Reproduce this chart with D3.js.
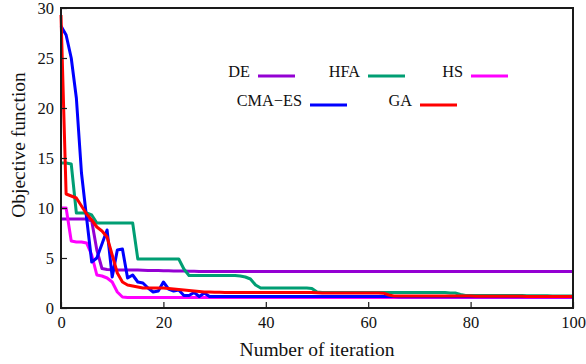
<!DOCTYPE html>
<html lang="en">
<head>
<meta charset="UTF-8">
<title>Convergence</title>
<script src="https://cdn.jsdelivr.net/npm/d3@7/dist/d3.min.js"></script>
<style>
  body { margin: 0; background: #fff; }
  text { font-family: "Liberation Serif", "DejaVu Serif", serif; fill: #111; }
</style>
</head>
<body>
<svg width="586" height="364"></svg>
<script>
// iteration axis ticks
var xTicks = [0, 20, 40, 60, 80, 100];
var yTicks = [0, 5, 10, 15, 20, 25, 30];

// best objective value per iteration (0..30, then held / slowly decreasing)
var deHead   = [8.9, 8.9, 8.9, 8.9, 8.9, 8.9, 8.7, 5.8, 3.95, 3.85, 3.82, 3.8, 3.8, 3.8, 3.8, 3.8, 3.78, 3.76, 3.75, 3.74, 3.73, 3.72, 3.71, 3.7, 3.69, 3.68, 3.67, 3.66, 3.65, 3.65, 3.65];
var hfaHead  = [14.5, 14.5, 14.4, 9.5, 9.5, 9.5, 9.3, 8.5, 8.5, 8.5, 8.5, 8.5, 8.5, 8.5, 8.5, 4.9, 4.9, 4.9, 4.9, 4.9, 4.9, 4.9, 4.9, 4.9, 3.9, 3.25, 3.25, 3.25, 3.25, 3.25, 3.25];
var hsHead   = [10, 10, 6.7, 6.6, 6.6, 6.5, 5.3, 3.3, 3.2, 3.0, 2.6, 1.6, 1.1, 1.05, 1.05, 1.05, 1.05, 1.05, 1.05, 1.05, 1.05, 1.05, 1.05, 1.05, 1.05, 1.05, 1.05, 1.05, 1.05, 1.05, 1.05];
var cmaHead  = [28.2, 27.3, 25, 21, 13.5, 9, 4.6, 5.0, 6.4, 7.8, 3.1, 5.8, 5.9, 3.0, 3.3, 2.6, 2.5, 2.0, 1.6, 1.7, 2.6, 1.9, 1.7, 1.8, 1.25, 1.25, 1.55, 1.15, 1.5, 1.15, 1.15];
var gaHead   = [29.3, 11.4, 11.2, 11.0, 10.2, 9.4, 8.8, 8.1, 7.7, 7.1, 5.3, 3.5, 2.6, 2.3, 2.2, 2.1, 2.0, 2.0, 2.0, 2.0, 2.0, 1.95, 1.9, 1.85, 1.8, 1.75, 1.7, 1.65, 1.6, 1.6, 1.58];

// values at iterations 31..100
var deTail   = [3.65];
var hfaTail  = [3.25, 3.25, 3.25, 3.25, 3.2, 3.1, 2.9, 2.3, 2.0, 2.0, 2.0, 2.0, 2.0, 2.0, 2.0, 2.0, 2.0, 2.0, 1.95, 1.6, 1.55, 1.55, 1.55, 1.55, 1.55, 1.55, 1.55, 1.55, 1.55, 1.55, 1.55, 1.55, 1.55, 1.55, 1.55, 1.55, 1.55, 1.55, 1.55, 1.55, 1.55, 1.55, 1.55, 1.55, 1.55, 1.5, 1.5, 1.35, 1.25, 1.25, 1.25, 1.25, 1.25, 1.25, 1.25, 1.25, 1.25, 1.25, 1.25, 1.25, 1.22, 1.22, 1.22, 1.22, 1.22, 1.2, 1.2, 1.2, 1.2, 1.2];
var hsTail   = [1.05];
var cmaTail  = [1.15, 1.15, 1.15, 1.15, 1.15, 1.15, 1.15, 1.15, 1.15, 1.15, 1.15, 1.15, 1.15, 1.15, 1.15, 1.15, 1.15, 1.15, 1.15, 1.15, 1.15, 1.15, 1.15, 1.15, 1.15, 1.15, 1.15, 1.15, 1.15, 1.15, 1.15, 1.15, 1.15, 1.15, 1.15, 1.12, 1.12, 1.12, 1.12, 1.12, 1.12, 1.12, 1.12, 1.12, 1.12, 1.12, 1.12, 1.12, 1.12, 1.12, 1.12, 1.12, 1.12, 1.12, 1.12, 1.12, 1.12, 1.12, 1.12, 1.12, 1.12, 1.12, 1.12, 1.12, 1.12, 1.12, 1.12, 1.12, 1.12, 1.12];
var gaTail   = [1.57, 1.56, 1.55, 1.55, 1.55, 1.55, 1.55, 1.55, 1.55, 1.55, 1.55, 1.55, 1.55, 1.55, 1.55, 1.55, 1.55, 1.55, 1.55, 1.52, 1.5, 1.5, 1.5, 1.5, 1.5, 1.5, 1.5, 1.5, 1.5, 1.5, 1.5, 1.5, 1.48, 1.3, 1.2, 1.2, 1.2, 1.2, 1.2, 1.2, 1.2, 1.2, 1.2, 1.2, 1.2, 1.2, 1.2, 1.2, 1.2, 1.2, 1.18, 1.18, 1.18, 1.18, 1.18, 1.18, 1.18, 1.18, 1.18, 1.18, 1.16, 1.16, 1.16, 1.16, 1.16, 1.16, 1.16, 1.16, 1.16, 1.16];

var names  = ['DE', 'HFA', 'HS', 'CMA-ES', 'GA'];
var colors = ['#9400d3', '#009e73', '#ff00ff', '#0000ff', '#ff0000'];

// join head + tail; a one-value tail is held to iteration 100
function build(head, tail) {
  var out = head.slice();
  while (out.length < 101) {
    var k = out.length - head.length;
    out.push(tail.length === 1 ? tail[0] : tail[k]);
  }
  return out;
}
var series = [
  build(deHead, deTail),
  build(hfaHead, hfaTail),
  build(hsHead, hsTail),
  build(cmaHead, cmaTail),
  build(gaHead, gaTail)
];

var svg = d3.select('svg');
var plotL = 61, plotR = 573, plotT = 8, plotB = 308;

var x = d3.scaleLinear().domain([0, 100]).range([plotL, plotR]);
var y = d3.scaleLinear().domain([0, 30]).range([plotB, plotT]);

// lines
var line = d3.line()
  .x(function(d, i) { return x(i); })
  .y(function(d) { return y(d); });

svg.append('g').selectAll('path').data(series).enter().append('path')
  .attr('d', line)
  .attr('fill', 'none')
  .attr('stroke', function(d, i) { return colors[i]; })
  .attr('stroke-width', 3)
  .attr('stroke-linejoin', 'round');

// frame
svg.append('rect')
  .attr('x', plotL).attr('y', plotT)
  .attr('width', plotR - plotL).attr('height', plotB - plotT)
  .attr('fill', 'none').attr('stroke', '#1a1a1a').attr('stroke-width', 2);

// axes with inward ticks
var xAxis = svg.append('g').attr('transform', 'translate(0,' + plotB + ')')
  .call(d3.axisBottom(x).tickValues(xTicks).tickSizeInner(-6).tickSizeOuter(0));
var yAxis = svg.append('g').attr('transform', 'translate(' + plotL + ',0)')
  .call(d3.axisLeft(y).tickValues(yTicks).tickSizeInner(-6).tickSizeOuter(0));
[xAxis, yAxis].forEach(function(a) {
  a.select('.domain').remove();
  a.selectAll('line').attr('stroke', '#1a1a1a').attr('stroke-width', 1.2);
  a.selectAll('text').style('font-family', '"Liberation Serif", serif').style('font-size', '16.5px').attr('fill', '#111');
});
xAxis.selectAll('text').attr('dy', '0.71em').attr('y', 8);
yAxis.selectAll('text').attr('x', -7);

// axis titles
svg.append('text')
  .attr('x', (plotL + plotR) / 2).attr('y', 356)
  .attr('text-anchor', 'middle').style('font-size', '19.5px')
  .text('Number of iteration');
svg.append('text')
  .attr('transform', 'translate(25,145) rotate(-90)')
  .attr('text-anchor', 'middle').style('font-size', '19.5px')
  .text('Objective function');

// legend: label right-aligned before a short sample line
var legendPos = [[250, 76], [360, 76], [463, 76], [302, 105], [412, 105]];
var lg = svg.append('g').selectAll('g').data(names).enter().append('g')
  .attr('transform', function(d, i) { return 'translate(' + legendPos[i][0] + ',' + legendPos[i][1] + ')'; });
lg.append('text')
  .attr('text-anchor', 'end').attr('y', 1).style('font-size', '16.3px')
  .text(function(d) { return d === 'CMA-ES' ? 'CMA\u2212ES' : d; });
lg.append('line')
  .attr('x1', 8).attr('x2', 45).attr('y1', 0).attr('y2', 0)
  .attr('stroke', function(d, i) { return colors[i]; })
  .attr('stroke-width', 3);
</script>
</body>
</html>
